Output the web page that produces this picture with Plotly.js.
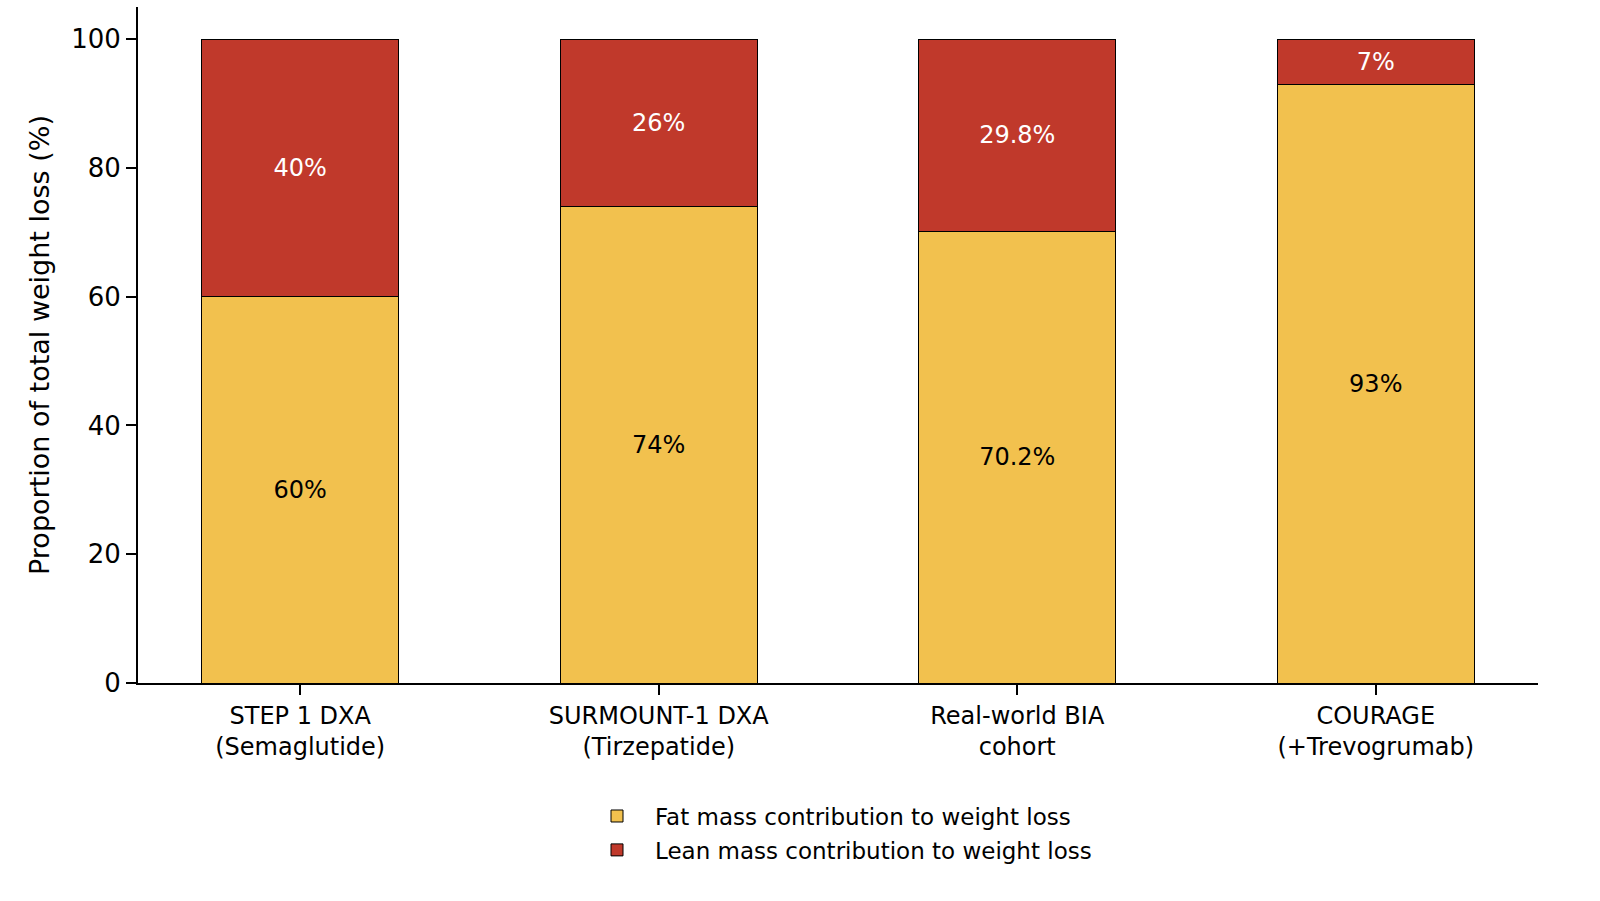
<!DOCTYPE html>
<html>
<head>
<meta charset="utf-8">
<script src="https://cdn.plot.ly/plotly-3.0.1.min.js"></script>
<style>html,body{margin:0;padding:0;background:#fff;}#chart{width:1600px;height:901px;}</style>
</head>
<body>
<div id="chart"></div>
<script>
const categories = ["STEP 1 DXA<br>(Semaglutide)", "SURMOUNT-1 DXA<br>(Tirzepatide)", "Real-world BIA<br>cohort", "COURAGE<br>(+Trevogrumab)"];
const fatValues = [60, 74, 70.2, 93];
const leanValues = [40, 26, 29.8, 7];
const yTicks = [0, 20, 40, 60, 80, 100];

const xIdx = categories.map((c, i) => i);
const font = "DejaVu Sans, Liberation Sans, sans-serif";

const traces = [
  {
    type: "bar", name: "Fat mass contribution to weight loss", legendgroup: "fat",
    x: xIdx, y: fatValues, width: 0.55,
    marker: {color: "#f2c14e", line: {color: "#000", width: 1}},
    text: fatValues.map(v => v + "%"), textposition: "inside", insidetextanchor: "middle",
    textfont: {family: font, size: 24, color: "#000"}, hoverinfo: "skip"
  },
  {
    type: "bar", name: "Lean mass contribution to weight loss", legendgroup: "lean",
    x: xIdx, y: leanValues, width: 0.55,
    marker: {color: "#c0392b", line: {color: "#000", width: 1}},
    text: leanValues.map(v => v + "%"), textposition: "inside", insidetextanchor: "middle",
    textfont: {family: font, size: 24, color: "#fff"}, hoverinfo: "skip"
  }
];

const layout = {
  width: 1600, height: 901,
  barmode: "stack",
  paper_bgcolor: "#fff", plot_bgcolor: "#fff",
  margin: {l: 138, r: 62, t: 7, b: 218},
  font: {family: font, color: "#000"},
  showlegend: true,
  legend: {
    orientation: "v", x: 0.5, xanchor: "center", y: -0.165, yanchor: "top",
    font: {family: font, size: 23, color: "#000"}, traceorder: "grouped", tracegroupgap: 1,
    itemwidth: 66
  },
  xaxis: {
    range: [-0.4525, 3.4525], tickmode: "array", tickvals: xIdx, ticktext: categories,
    showline: true, linecolor: "#000", linewidth: 2, ticks: "outside", ticklen: 10, tickwidth: 2,
    tickcolor: "#000", showgrid: false, zeroline: false,
    tickfont: {family: font, size: 24, color: "#000"}
  },
  yaxis: {
    range: [0, 105], tickmode: "array", tickvals: yTicks,
    showline: true, linecolor: "#000", linewidth: 2, ticks: "outside", ticklen: 10, tickwidth: 2,
    tickcolor: "#000", showgrid: false, zeroline: false,
    tickfont: {family: font, size: 26, color: "#000"},
    title: {text: "Proportion of total weight loss (%)", font: {family: font, size: 27, color: "#000"}, standoff: 14}
  }
};

Plotly.newPlot("chart", traces, layout, {displayModeBar: false, staticPlot: true});
</script>
</body>
</html>
